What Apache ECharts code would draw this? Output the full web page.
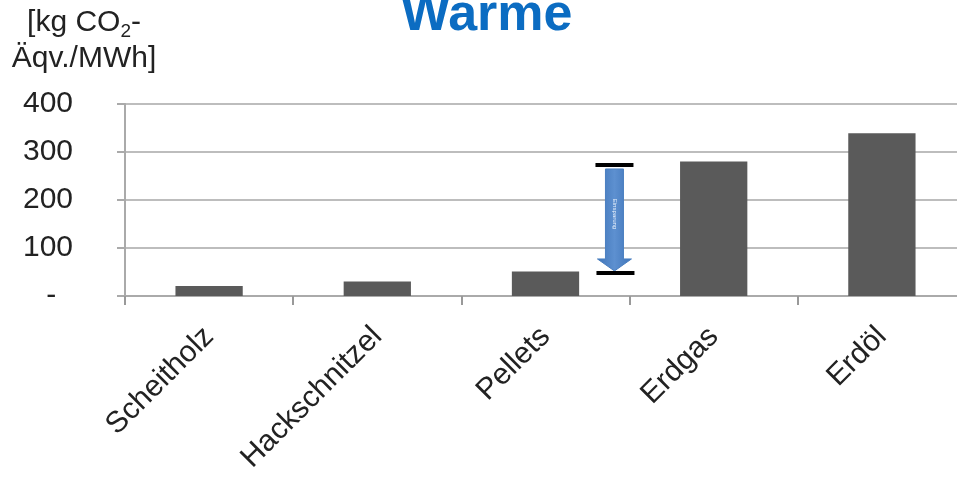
<!DOCTYPE html>
<html>
<head>
<meta charset="utf-8">
<script src="https://cdn.jsdelivr.net/npm/echarts@6/dist/echarts.min.js"></script>
<style>html,body{margin:0;padding:0;background:#fff;overflow:hidden;width:957px;height:485px;}#c{width:966px;height:485px;}</style>
</head>
<body>
<div id="c"></div>
<script>
const categories = ['Scheitholz', 'Hackschnitzel', 'Pellets', 'Erdgas', 'Erdöl'];
const values = [21, 30, 51, 280, 339];
const yTicks = [0, 100, 200, 300, 400];
const arrowCategory = 2;          // arrow drawn right of "Pellets"
const arrowRange = [48, 273];     // [bottom, top] values of the arrow bars
const titleText = 'Warme';
const unitLine1 = '[kg CO{sub|2}-';
const unitLine2 = 'Äqv./MWh]';

const FONT = "'Liberation Sans', Arial, sans-serif";
const chart = echarts.init(document.getElementById('c'), null, {renderer: 'canvas'});

function renderArrow(params, api) {
  const cat = api.value(0);
  const lo = api.value(1), hi = api.value(2);
  const band = api.size([1, 0])[0];
  const cx = api.coord([cat, 0])[0] + band * 0.41;
  const yTop = api.coord([cat, hi])[1];
  const yBot = api.coord([cat, lo])[1];
  const shaftW = 18, headW = 34, headH = 12;
  const shaftTop = yTop + 4;
  const tip = yBot - 2;
  const headStart = tip - headH;
  return {
    type: 'group',
    children: [
      {
        type: 'polygon',
        shape: {points: [
          [cx - shaftW / 2, shaftTop], [cx + shaftW / 2, shaftTop],
          [cx + shaftW / 2, headStart], [cx + headW / 2, headStart],
          [cx, tip], [cx - headW / 2, headStart], [cx - shaftW / 2, headStart]
        ]},
        style: {
          fill: new echarts.graphic.LinearGradient(0, 0, 1, 0, [
            {offset: 0, color: '#3f74b8'}, {offset: 0.5, color: '#5d90d0'}, {offset: 1, color: '#3f74b8'}
          ]),
          stroke: '#4a7fc0', lineWidth: 1
        }
      },
      {
        type: 'text',
        x: cx, y: (shaftTop + headStart) / 2, rotation: -Math.PI / 2,
        style: {text: 'Einsparung', fill: '#e8f0fa', fontSize: 6, fontFamily: FONT, align: 'center', verticalAlign: 'middle'}
      },
      {type: 'rect', shape: {x: cx - 19, y: yTop - 2, width: 38, height: 4}, style: {fill: '#000'}},
      {type: 'rect', shape: {x: cx - 18, y: yBot - 2, width: 38, height: 4}, style: {fill: '#000'}}
    ]
  };
}

const option = {
  backgroundColor: '#fff',
  animation: false,
  title: {
    text: titleText,
    left: 396, top: -15,
    textStyle: {fontSize: 52, fontWeight: 'bold', color: '#0b6cc2', fontFamily: FONT}
  },
  graphic: [{
    type: 'text', x: 84, y: 5,
    style: {
      text: unitLine1 + '\n' + unitLine2,
      align: 'center', verticalAlign: 'top',
      fontSize: 30, lineHeight: 36, fill: '#222', fontFamily: FONT,
      rich: {sub: {fontSize: 19, lineHeight: 20, verticalAlign: 'bottom', fill: '#222', fontFamily: FONT}}
    }
  }],
  grid: {left: 125, top: 104, right: 0, bottom: 189, containLabel: false},
  xAxis: {
    type: 'category',
    data: categories,
    boundaryGap: true,
    axisLine: {show: true, lineStyle: {color: '#aaaaaa', width: 2}},
    axisTick: {show: true, length: 9, lineStyle: {color: '#999999', width: 2}},
    axisLabel: {rotate: 45, margin: 36, fontSize: 30, color: '#222', fontFamily: FONT, interval: 0},
    splitLine: {show: false}
  },
  yAxis: {
    type: 'value',
    min: yTicks[0], max: yTicks[yTicks.length - 1], interval: 100,
    axisLine: {show: true, lineStyle: {color: '#aaaaaa', width: 2}},
    axisTick: {show: true, length: 8, lineStyle: {color: '#aaaaaa', width: 2}},
    splitLine: {show: true, lineStyle: {color: '#bdbdbd', width: 2}},
    axisLabel: {
      margin: 52, fontSize: 30, color: '#222', fontFamily: FONT,
      formatter: v => v === 0 ? '-  ' : String(v)
    }
  },
  series: [
    {
      type: 'bar',
      data: values,
      barWidth: '40%',
      itemStyle: {color: '#5a5a5a'},
      z: 2
    },
    {
      type: 'custom',
      data: [[arrowCategory, arrowRange[0], arrowRange[1]]],
      renderItem: renderArrow,
      z: 5
    }
  ]
};
chart.setOption(option);
</script>
</body>
</html>
